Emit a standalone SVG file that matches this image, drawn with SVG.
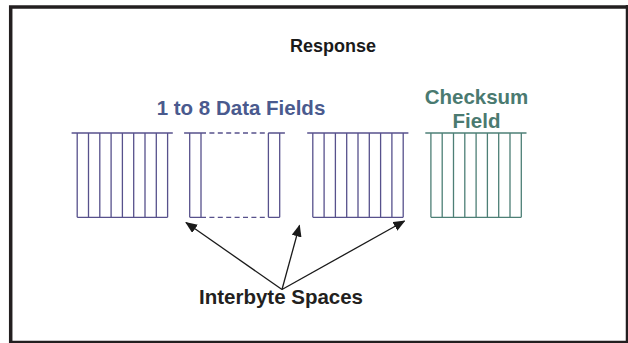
<svg xmlns="http://www.w3.org/2000/svg" xmlns:xlink="http://www.w3.org/1999/xlink" width="628" height="343" viewBox="0 0 628 343">
  <style>
    .frame { fill: none; stroke: #231f20; stroke-width: 3.5; }
    .label { font-family: "Liberation Sans", Arial, sans-serif; font-weight: bold; text-anchor: middle; }
    .data { stroke: #57518c; fill: none; stroke-width: 1.3; }
    .sum { stroke: #4d7f76; fill: none; stroke-width: 1.3; }
    .rim { stroke-width: 1.6; }
    .gap { stroke-dasharray: 5 3.4; }
    .arrow { stroke: #1a1a1a; stroke-width: 1.3; fill: none; marker-end: url(#head); }
  </style>
  <defs>
    <marker id="head" viewBox="0 0 12 10" refX="11" refY="5" markerWidth="12" markerHeight="10" markerUnits="userSpaceOnUse" orient="auto">
      <path d="M0,0 L12,5 L0,10 Z" fill="#1a1a1a"/>
    </marker>
    <!-- one byte block: 8 cells, open top rule drawn separately -->
    <g id="byte">
      <path d="M0,133 V217.3 M11.3,133 V217.3 M22.6,133 V217.3 M33.9,133 V217.3 M45.2,133 V217.3 M56.5,133 V217.3 M67.8,133 V217.3 M79.1,133 V217.3 M90.4,133 V217.3 M0,217.3 H90.4"/>
      <path class="rim" d="M-5.6,133 H95.6"/>
    </g>
  </defs>

  <rect width="628" height="343" fill="#ffffff"/>

  <!-- outer frame -->
  <g id="frame">
    <path class="frame" d="M628,6.9 H10.7 V343"/>
    <path class="frame" d="M10.7,342.4 H628" stroke-width="2.4"/>
    <path class="frame" d="M627.5,5 V343" stroke-width="1.2"/>
  </g>

  <g id="title">
    <text class="label" x="333" y="52" font-size="18" fill="#1a1a1a">Response</text>
  </g>

  <g id="data-label">
    <text class="label" x="241" y="115" font-size="20.5" fill="#4a5a8e">1 to 8 Data Fields</text>
  </g>

  <g id="checksum-label">
    <text class="label" x="476.5" y="104" font-size="20.5" fill="#4a7a70">Checksum</text>
    <text class="label" x="476.5" y="128.3" font-size="20.5" fill="#4a7a70">Field</text>
  </g>

  <g id="data-byte-1" class="data">
    <use xlink:href="#byte" href="#byte" x="77.2"/>
  </g>

  <!-- elided middle bytes -->
  <g id="data-byte-n" class="data">
    <path d="M189.7,133 V217.3 M201,133 V217.3 M268.4,133 V217.3 M279.7,133 V217.3 M189.7,217.3 H201 M268.4,217.3 H279.7"/>
    <path class="rim" d="M184.1,133 H201 M268.4,133 H284.9"/>
    <path class="gap" d="M201,217.3 H268.4"/>
    <path class="rim gap" d="M201,133 H268.4"/>
  </g>

  <g id="data-byte-last" class="data">
    <use xlink:href="#byte" href="#byte" x="312.8"/>
  </g>

  <g id="checksum-byte" class="sum">
    <use xlink:href="#byte" href="#byte" x="430.9"/>
  </g>

  <g id="spaces-label">
    <text class="label" x="281" y="304" font-size="20.5" fill="#231f20">Interbyte Spaces</text>
  </g>

  <g id="connectors">
    <path class="arrow" d="M282,289.5 L186,222.5"/>
    <path class="arrow" d="M282,289.5 L299.5,225.5"/>
    <path class="arrow" d="M282,289.5 L404.5,221"/>
  </g>
</svg>
